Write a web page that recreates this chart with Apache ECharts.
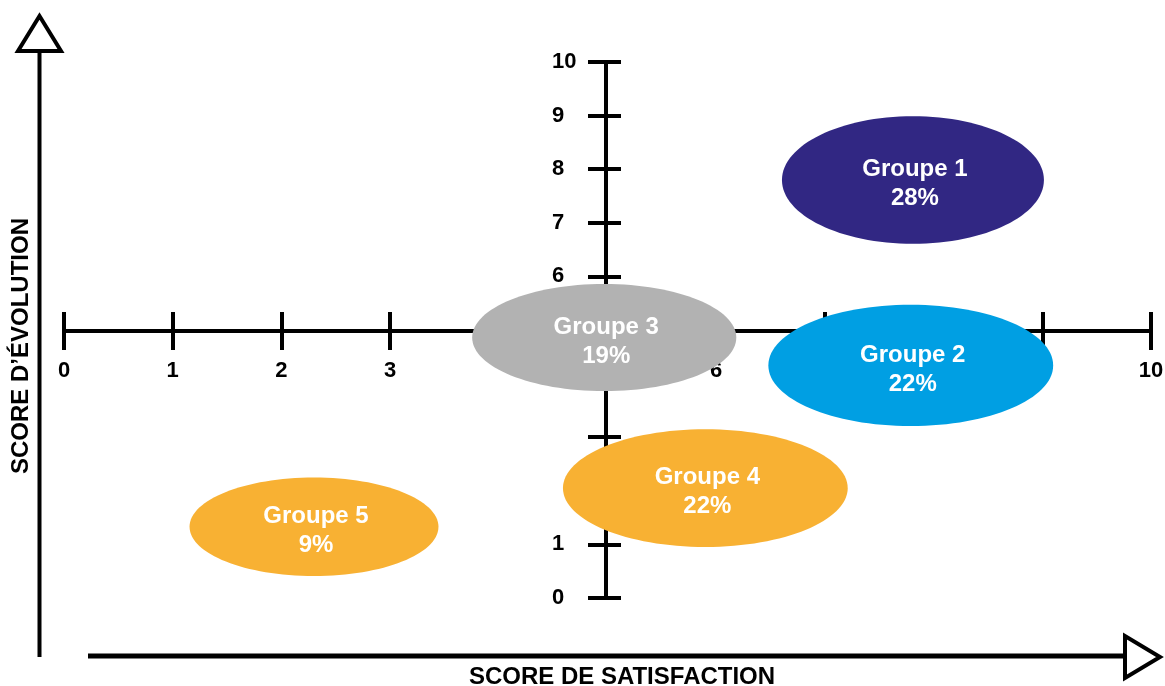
<!DOCTYPE html>
<html>
<head>
<meta charset="utf-8">
<script src="https://cdn.jsdelivr.net/npm/echarts@6/dist/echarts.min.js"></script>
<style>
html,body{margin:0;padding:0;background:#fff;}
#chart{width:1165px;height:686px;}
</style>
</head>
<body>
<div id="chart"></div>
<script>
// ---- data ----
const groupNames   = ['Groupe 1', 'Groupe 2', 'Groupe 3', 'Groupe 4', 'Groupe 5'];
const satisfaction = [7.81, 7.79, 4.97, 5.90, 2.30];   // x centre (score de satisfaction)
const evolution    = [7.80, 4.34, 4.86, 2.05, 1.33];   // y centre (score d'évolution)
const shares       = [28, 22, 19, 22, 9];              // % of population
const spreadX      = [1.205, 1.31, 1.215, 1.31, 1.145]; // half-extent along x (score units)
const spreadY      = [1.19, 1.13, 1.00, 1.10, 0.92];   // half-extent along y (score units)
const xTickLabels  = ['0', '1', '2', '3', '', '', '6', '', '', '', '10'];
const yTickLabels  = ['0', '1', '', '', '', '', '6', '7', '8', '9', '10'];
const xTitle = 'SCORE DE SATISFACTION';
const yTitle = 'SCORE D’ÉVOLUTION';

const palette = ['#312783', '#009FE3', '#B2B2B2', '#F8B133', '#F8B133'];
const FONT = '"Liberation Sans", Arial, Helvetica, sans-serif';

const chart = echarts.init(document.getElementById('chart'), null, {renderer: 'canvas'});

const seriesData = groupNames.map((n, i) => [satisfaction[i], evolution[i], spreadX[i], spreadY[i], shares[i]]);

const option = {
  backgroundColor: '#fff',
  animation: false,
  grid: [
    {left: 64, right: 14, top: 62, bottom: 88, outerBoundsMode: 'none'},          // main plotting area
    {left: 64, right: 14, top: 312, height: 19, outerBoundsMode: 'none'},          // horizontal axis strip
    {left: 606, width: 15, top: 62, bottom: 88, outerBoundsMode: 'none'}           // vertical axis strip
  ],
  xAxis: [
    {gridIndex: 0, type: 'value', min: 0, max: 10, show: false},
    {
      gridIndex: 1, type: 'value', min: 0, max: 10, interval: 1, position: 'bottom',
      axisLine: {show: true, onZero: false, lineStyle: {color: '#000', width: 4}},
      axisTick: {show: true, inside: false, length: 19, lineStyle: {color: '#000', width: 4}},
      splitLine: {show: true, showMinLine: true, showMaxLine: true, lineStyle: {color: '#000', width: 4}},
      axisLabel: {
        show: true, margin: 29, showMinLabel: true, showMaxLabel: true,
        color: '#000', fontSize: 22, fontWeight: 'bold', fontFamily: FONT,
        formatter: v => xTickLabels[Math.round(v)] || ''
      }
    },
    {gridIndex: 2, type: 'value', min: 0, max: 1, show: false}
  ],
  yAxis: [
    {gridIndex: 0, type: 'value', min: 0, max: 10, show: false},
    {gridIndex: 1, type: 'value', min: 0, max: 1, show: false},
    {
      gridIndex: 2, type: 'value', min: 0, max: 10, interval: 1, position: 'left',
      axisLine: {show: true, onZero: false, lineStyle: {color: '#000', width: 4}},
      axisTick: {show: true, inside: false, length: 18, lineStyle: {color: '#000', width: 4}},
      splitLine: {show: true, showMinLine: true, showMaxLine: true, lineStyle: {color: '#000', width: 4}},
      axisLabel: {
        show: true, margin: 54, align: 'left', showMinLabel: true, showMaxLabel: true,
        color: '#000', fontSize: 22, fontWeight: 'bold', fontFamily: FONT,
        formatter: v => yTickLabels[Math.round(v)] || ''
      }
    }
  ],
  graphic: [
    {type: 'line', z: 1, shape: {x1: 39.5, y1: 50, x2: 39.5, y2: 657}, style: {stroke: '#000', lineWidth: 4}},
    {type: 'polygon', z: 2, shape: {points: [[39.5, 16], [18, 51], [61, 51]]},
     style: {fill: '#fff', stroke: '#000', lineWidth: 4, lineJoin: 'miter'}},
    {type: 'line', z: 1, shape: {x1: 88, y1: 656, x2: 1126, y2: 656}, style: {stroke: '#000', lineWidth: 5}},
    {type: 'polygon', z: 2, shape: {points: [[1125, 636], [1125, 678], [1160, 657]]},
     style: {fill: '#fff', stroke: '#000', lineWidth: 4, lineJoin: 'miter'}},
    {type: 'text', x: 622, y: 677, style: {text: xTitle, fill: '#000', font: 'bold 24px ' + FONT, align: 'center', verticalAlign: 'middle'}},
    {type: 'text', x: 21, y: 346, rotation: Math.PI / 2,
     style: {text: yTitle, fill: '#000', font: 'bold 24px ' + FONT, align: 'center', verticalAlign: 'middle'}}
  ],
  series: [{
    type: 'custom',
    xAxisIndex: 0, yAxisIndex: 0,
    z: 5,
    data: seriesData,
    encode: {x: 0, y: 1},
    renderItem: function (params, api) {
      const i = params.dataIndex;
      const c = api.coord([api.value(0), api.value(1)]);
      const s = api.size([api.value(2), api.value(3)]);
      return {
        type: 'group',
        children: [
          {type: 'ellipse', shape: {cx: c[0], cy: c[1], rx: s[0], ry: s[1]}, style: {fill: palette[i]}},
          {type: 'text', x: c[0] + 2, y: c[1] + 4,
           style: {text: groupNames[i] + '\n' + api.value(4) + '%', fill: '#fff',
                   font: 'bold 24px ' + FONT, align: 'center', verticalAlign: 'middle', lineHeight: 29}}
        ]
      };
    }
  }]
};

chart.setOption(option);
</script>
</body>
</html>
